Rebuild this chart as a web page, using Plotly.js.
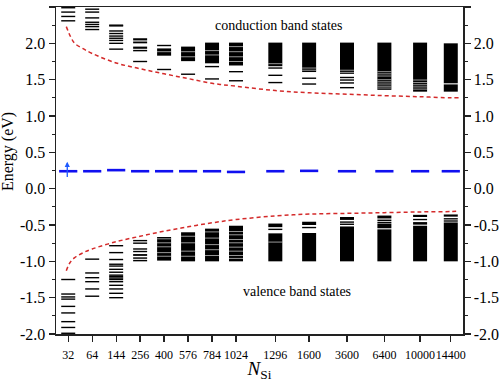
<!DOCTYPE html>
<html>
<head>
<meta charset="utf-8">
<script src="https://cdn.plot.ly/plotly-3.0.1.min.js"></script>
<style>html,body{margin:0;padding:0;background:#fff}</style>
</head>
<body>
<div id="chart" style="width:500px;height:382px"></div>
<script>
// system sizes (tick labels) and where each one sits on the stretched x axis
var nSi = ['32', '64', '144', '256', '400', '576', '784', '1024', '1296', '1600', '3600', '6400', '10000', '14400'];
var slot = [0, 1, 2, 3, 4, 5, 6, 7, 8.64, 10.05, 11.63, 13.19, 14.68, 15.96];

// energy ticks (plain hyphen like the original)
var eTicks = [-2.0, -1.5, -1.0, -0.5, 0.0, 0.5, 1.0, 1.5, 2.0, 2.5];
var eLabels = ['-2.0', '-1.5', '-1.0', '-0.5', '0.0', '0.5', '1.0', '1.5', '2.0', '2.5'];

// conduction band: single levels, dense bands [top, bottom], light gaps inside bands
var cbLines = [
    [2.49, 2.43, 2.37, 2.31],
    [2.47, 2.43, 2.35, 2.29, 2.26, 2.23, 2.19],
    [2.25, 2.24, 2.17, 2.135, 2.10, 2.07, 2.04, 2.00, 1.92],
    [1.75],
    [1.97, 1.64],
    [1.575],
    [1.68, 1.51],
    [1.61, 1.485],
    [1.66, 1.56, 1.46],
    [1.52, 1.44],
    [1.53, 1.495, 1.455, 1.39],
    [],
    [],
    []
];
var cbBands = [
    [], [], [],
    [[2.07, 2.04], [2.025, 2.0], [1.955, 1.925], [1.91, 1.89]],
    [[1.93, 1.83]],
    [[1.955, 1.755]],
    [[2.01, 1.725]],
    [[2.01, 1.695]],
    [[2.01, 1.685]],
    [[2.01, 1.605]],
    [[2.01, 1.58]],
    [[2.01, 1.36]],
    [[2.01, 1.335]],
    [[2.0, 1.45], [1.435, 1.335]]
];
var cbGaps = [
    [], [], [], [],
    [1.885],
    [1.885, 1.815],
    [1.90, 1.84],
    [1.955, 1.885, 1.815, 1.75],
    [1.72],
    [1.66, 1.63],
    [1.63, 1.60],
    [1.61, 1.58, 1.55, 1.50, 1.47, 1.44, 1.41, 1.385],
    [1.495, 1.46, 1.43, 1.40, 1.37],
    []
];

// valence band
var vbLines = [
    [-1.25, -1.45, -1.49, -1.52, -1.62, -1.71, -1.83, -1.91, -1.99],
    [-0.97, -1.16, -1.225, -1.28, -1.38, -1.48],
    [-0.785, -0.88, -0.975, -1.04, -1.065, -1.11, -1.15, -1.19, -1.21, -1.23, -1.25, -1.28, -1.33, -1.38, -1.44, -1.50],
    [-0.715, -0.75, -0.83, -0.865],
    [],
    [],
    [],
    [],
    [-0.56],
    [-0.535],
    [-0.46, -0.49],
    [-0.435, -0.465],
    [-0.425],
    [-0.415, -0.445]
];
var vbBands = [
    [], [], [],
    [[-0.90, -0.925], [-0.945, -0.965], [-0.98, -1.0]],
    [[-0.665, -0.99]],
    [[-0.60, -1.0]],
    [[-0.55, -1.0]],
    [[-0.51, -1.0]],
    [[-0.48, -0.53], [-0.615, -1.0]],
    [[-0.455, -0.50], [-0.61, -1.0]],
    [[-0.39, -0.43], [-0.52, -1.0]],
    [[-0.37, -0.41], [-0.48, -0.545], [-0.56, -1.0]],
    [[-0.36, -0.39], [-0.46, -0.495], [-0.51, -1.0]],
    [[-0.355, -0.385], [-0.465, -1.0]]
];
var vbGaps = [
    [], [], [], [],
    [-0.69, -0.745, -0.80, -0.88, -0.93],
    [-0.655, -0.745, -0.86, -0.93],
    [-0.595, -0.68, -0.77, -0.84, -0.92],
    [-0.59, -0.635, -0.70, -0.745, -0.805, -0.86, -0.92, -0.96],
    [-0.735],
    [], [], [], [], []
];

// blue level (with spin arrow at 32)
var midLevel = [0.24, 0.24, 0.255, 0.24, 0.24, 0.24, 0.24, 0.23, 0.24, 0.245, 0.24, 0.24, 0.24, 0.24];

// red dashed band edges
var cbEdgeX = [-0.08, 0.1, 0.27, 0.6, 1, 2, 3, 4, 5, 6, 7, 8.64, 10.05, 11.63, 13.19, 14.68, 15.96, 16.3];
var cbEdge = [2.23, 2.09, 2.00, 1.93, 1.86, 1.73, 1.65, 1.58, 1.515, 1.45, 1.41, 1.35, 1.32, 1.30, 1.28, 1.265, 1.25, 1.25];
var vbEdgeX = [-0.08, 0.07, 0.27, 0.63, 1, 2, 3, 4, 5, 6, 7, 8.64, 10.05, 11.63, 13.19, 14.68, 15.96, 16.3];
var vbEdge = [-1.13, -1.02, -0.95, -0.88, -0.83, -0.73, -0.655, -0.585, -0.525, -0.47, -0.425, -0.375, -0.35, -0.34, -0.33, -0.32, -0.315, -0.31];

var serif = 'Liberation Serif, Times New Roman, serif';

function levelPoints(sets) {
    var x = [], y = [];
    sets.forEach(function (vals, i) {
        vals.forEach(function (v) { x.push(slot[i]); y.push(v); });
    });
    return {x: x, y: y};
}

function bandPoints(sets) {
    var x = [], y = [];
    sets.forEach(function (bands, i) {
        bands.forEach(function (b) {
            x.push(slot[i], slot[i], null);
            y.push(b[0], b[1], null);
        });
    });
    return {x: x, y: y};
}

var lines = levelPoints(cbLines);
var vl = levelPoints(vbLines);
var bands = bandPoints(cbBands);
var vbb = bandPoints(vbBands);
var gaps = levelPoints(cbGaps);
var vg = levelPoints(vbGaps);

// note: a line-ew marker is 1.4 x size long
var data = [
    {
        x: bands.x.concat(vbb.x), y: bands.y.concat(vbb.y),
        mode: 'lines', type: 'scatter',
        line: {color: '#000', width: 14},
        hoverinfo: 'skip', showlegend: false
    },
    {
        x: lines.x.concat(vl.x), y: lines.y.concat(vl.y),
        mode: 'markers', type: 'scatter',
        marker: {symbol: 'line-ew', size: 10, line: {color: '#000', width: 1.4}},
        hoverinfo: 'skip', showlegend: false
    },
    {
        x: gaps.x.concat(vg.x), y: gaps.y.concat(vg.y),
        mode: 'markers', type: 'scatter',
        marker: {symbol: 'line-ew', size: 10, line: {color: 'rgba(255,255,255,0.75)', width: 0.8}},
        hoverinfo: 'skip', showlegend: false
    },
    {
        x: cbEdgeX, y: cbEdge, mode: 'lines', type: 'scatter',
        line: {color: '#d42a2a', width: 1.5, dash: '4px,3px', shape: 'spline'},
        hoverinfo: 'skip', showlegend: false
    },
    {
        x: vbEdgeX, y: vbEdge, mode: 'lines', type: 'scatter',
        line: {color: '#d42a2a', width: 1.5, dash: '4px,3px', shape: 'spline'},
        hoverinfo: 'skip', showlegend: false
    },
    {
        x: slot, y: midLevel, mode: 'markers', type: 'scatter', yaxis: 'y2',
        marker: {symbol: 'line-ew', size: 13, line: {color: '#1010f0', width: 2.6}},
        hoverinfo: 'skip', showlegend: false
    }
];

var yTicks = {
    range: [-2, 2.5], tickvals: eTicks, ticktext: eLabels,
    ticks: 'outside', ticklen: 6, tickwidth: 1.3, tickcolor: '#222',
    minor: {dtick: 0.25, tick0: 0, ticks: 'outside', ticklen: 3, tickwidth: 1.2, tickcolor: '#222'},
    showline: true, linewidth: 1.5, linecolor: '#222',
    showgrid: false, zeroline: false,
    tickfont: {family: serif, size: 16, color: '#000'}
};

var layout = {
    width: 500, height: 382,
    margin: {l: 56, r: 37, t: 7, b: 48},
    paper_bgcolor: '#fff', plot_bgcolor: '#fff',
    xaxis: {
        range: [-0.51, 16.47],
        tickvals: slot, ticktext: nSi, tickangle: 0,
        ticks: 'outside', ticklen: 6, tickwidth: 1.3, tickcolor: '#222',
        ticklabelstandoff: 3,
        showline: true, mirror: true, linewidth: 1.5, linecolor: '#222',
        showgrid: false, zeroline: false,
        tickfont: {family: serif, size: 12, color: '#000'},
        title: {text: '<i>N</i><sub>Si</sub>', font: {family: serif, size: 19, color: '#000'}, standoff: 6}
    },
    yaxis: Object.assign({}, yTicks, {side: 'left'}),
    yaxis2: Object.assign({}, yTicks, {side: 'right', overlaying: 'y'}),
    annotations: [
        {
            xref: 'paper', yref: 'paper', x: -0.119, y: 0.558,
            xanchor: 'center', yanchor: 'middle',
            text: 'Energy (eV)', textangle: -90, showarrow: false,
            font: {family: serif, size: 16, color: '#000'}
        },
        {
            x: 8.8, y: 2.25, text: 'conduction band states', showarrow: false,
            font: {family: serif, size: 14, color: '#000'}
        },
        {
            x: 9.55, y: -1.42, text: 'valence band states', showarrow: false,
            font: {family: serif, size: 14, color: '#000'}
        },
        {
            x: -0.04, y: 0.37, ax: -0.04, ay: 0.14, axref: 'x', ayref: 'y',
            text: '', showarrow: true, arrowhead: 2, arrowsize: 0.8,
            arrowwidth: 1.3, arrowcolor: '#1e5aff'
        }
    ]
};

Plotly.newPlot('chart', data, layout, {displayModeBar: false, staticPlot: true});
</script>
</body>
</html>
